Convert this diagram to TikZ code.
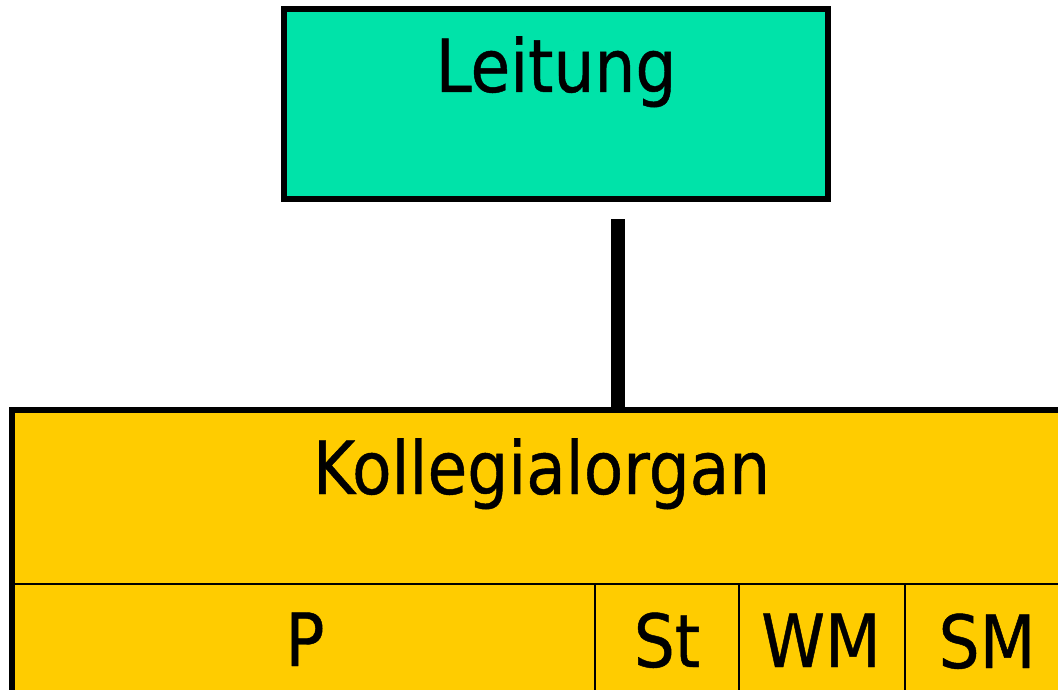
\documentclass[tikz,border=0pt]{standalone}
\usepackage{fontspec}
\setmainfont{DejaVu Sans}[FakeStretch=0.88,FakeBold=0.6]
\definecolor{leitgreen}{HTML}{00E3A9}
\definecolor{organgelb}{HTML}{FFCC00}
\begin{document}
\begin{tikzpicture}[x=1pt,y=-1pt,
  txt/.style={font=\fontsize{73.4}{80}\selectfont, anchor=base, inner sep=0pt},
  box/.style={draw=black, line width=6pt, inner sep=0pt, outer sep=0pt, anchor=north west},
  divider/.style={line width=2.5pt},
  conn/.style={line width=14pt}]
\useasboundingbox (0,0) rectangle (1058,690);

% top unit
\node[box, fill=leitgreen, minimum width=544pt, minimum height=190pt] (leitung) at (284,9) {};
\node[txt] (leitungtxt) at (556,92) {Leitung};

% collegial body with its member columns
\node[box, fill=organgelb, minimum width=1057pt, minimum height=300pt] (kolleg) at (12,410) {};
\draw[divider] (12,584) -- (1069,584);
\draw[divider] (595,584) -- (595,712);
\draw[divider] (739,584) -- (739,712);
\draw[divider] (905,584) -- (905,712);

\node[txt] (kollegtxt) at (541.5,494) {Kollegialorgan};
\node[txt] (p)  at (305,666) {P};
\node[txt] (st) at (667,667) {St};
\node[txt] (wm) at (821,667) {WM};
\node[txt] (sm) at (987,668) {SM};

% connector between the two units
\draw[conn] ([xshift=62pt,yshift=-20pt]leitung.south) coordinate (c1) -- (c1 |- kolleg.north);
\end{tikzpicture}
\end{document}
